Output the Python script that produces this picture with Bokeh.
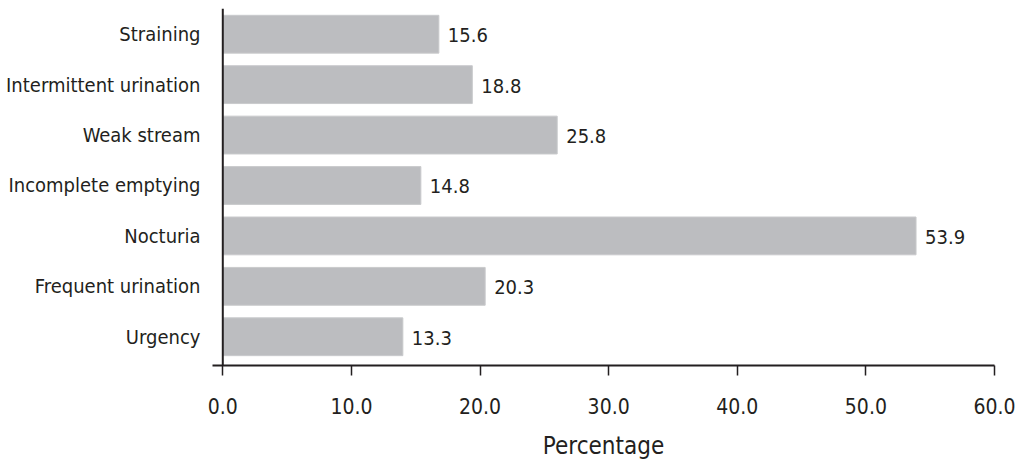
from bokeh.plotting import figure
from bokeh.models import Range1d, FixedTicker, Span, ColumnDataSource, NumeralTickFormatter
from bokeh.core.properties import value
from bokeh.embed import file_html
from bokeh.resources import INLINE

# Categories listed bottom to top
categories = ["Urgency", "Frequent urination", "Nocturia", "Incomplete emptying",
              "Weak stream", "Intermittent urination", "Straining"]
# Bar lengths as drawn in the picture
bar_values = [14.0, 20.4, 53.9, 15.4, 26.0, 19.4, 16.8]
# Value labels as printed next to the bars
value_labels = ["13.3", "20.3", "53.9", "14.8", "25.8", "18.8", "15.6"]
x_ticks = [0, 10, 20, 30, 40, 50, 60]

FONT = "'DejaVu Sans Condensed', 'Liberation Sans Narrow', 'Roboto Condensed', sans-serif"
TEXT = "#231f20"
BAR = "#bcbdc0"

ypos = list(range(len(categories)))
src = ColumnDataSource(dict(y=ypos, right=bar_values, label=value_labels))

p = figure(frame_width=782, frame_height=357,
           x_range=Range1d(-0.8, 60), y_range=Range1d(-0.57, 6.51),
           output_backend="svg", toolbar_location=None,
           min_border_left=212, min_border_top=8, min_border_right=24, min_border_bottom=0)

p.hbar(y="y", left=0, right="right", height=0.75, source=src,
       fill_color=BAR, line_color="#c9cacc", line_width=1)
p.text(x="right", y="y", text="label", source=src, x_offset=9, y_offset=1,
       text_baseline="middle", text_align="left",
       text_font=value(FONT), text_font_size="20px", text_color=TEXT)
p.add_layout(Span(location=0, dimension="height", line_color=TEXT, line_width=2))

p.xgrid.visible = False
p.ygrid.visible = False
p.outline_line_color = None
p.background_fill_color = "white"
p.border_fill_color = "white"

xa = p.xaxis[0]
xa.ticker = FixedTicker(ticks=x_ticks)
xa.formatter = NumeralTickFormatter(format="0.0")
xa.axis_label = "Percentage"
xa.axis_line_color = TEXT
xa.axis_line_width = 2
xa.major_tick_line_color = TEXT
xa.major_tick_line_width = 1.5
xa.major_tick_out = 10
xa.major_tick_in = 0
xa.minor_tick_line_color = None
xa.major_label_standoff = 22
xa.major_label_text_font = FONT
xa.major_label_text_font_size = "21px"
xa.major_label_text_color = TEXT
xa.axis_label_standoff = 15
xa.axis_label_text_font = FONT
xa.axis_label_text_font_size = "24px"
xa.axis_label_text_font_style = "normal"
xa.axis_label_text_color = TEXT

ya = p.yaxis[0]
ya.ticker = FixedTicker(ticks=ypos)
ya.major_label_overrides = {i: c for i, c in zip(ypos, categories)}
ya.axis_line_color = None
ya.major_tick_line_color = None
ya.minor_tick_line_color = None
ya.major_tick_out = 0
ya.major_tick_in = 0
ya.major_label_standoff = 12
ya.major_label_text_font = FONT
ya.major_label_text_font_size = "20px"
ya.major_label_text_color = TEXT

open("out.html", "w").write(file_html(p, INLINE))
